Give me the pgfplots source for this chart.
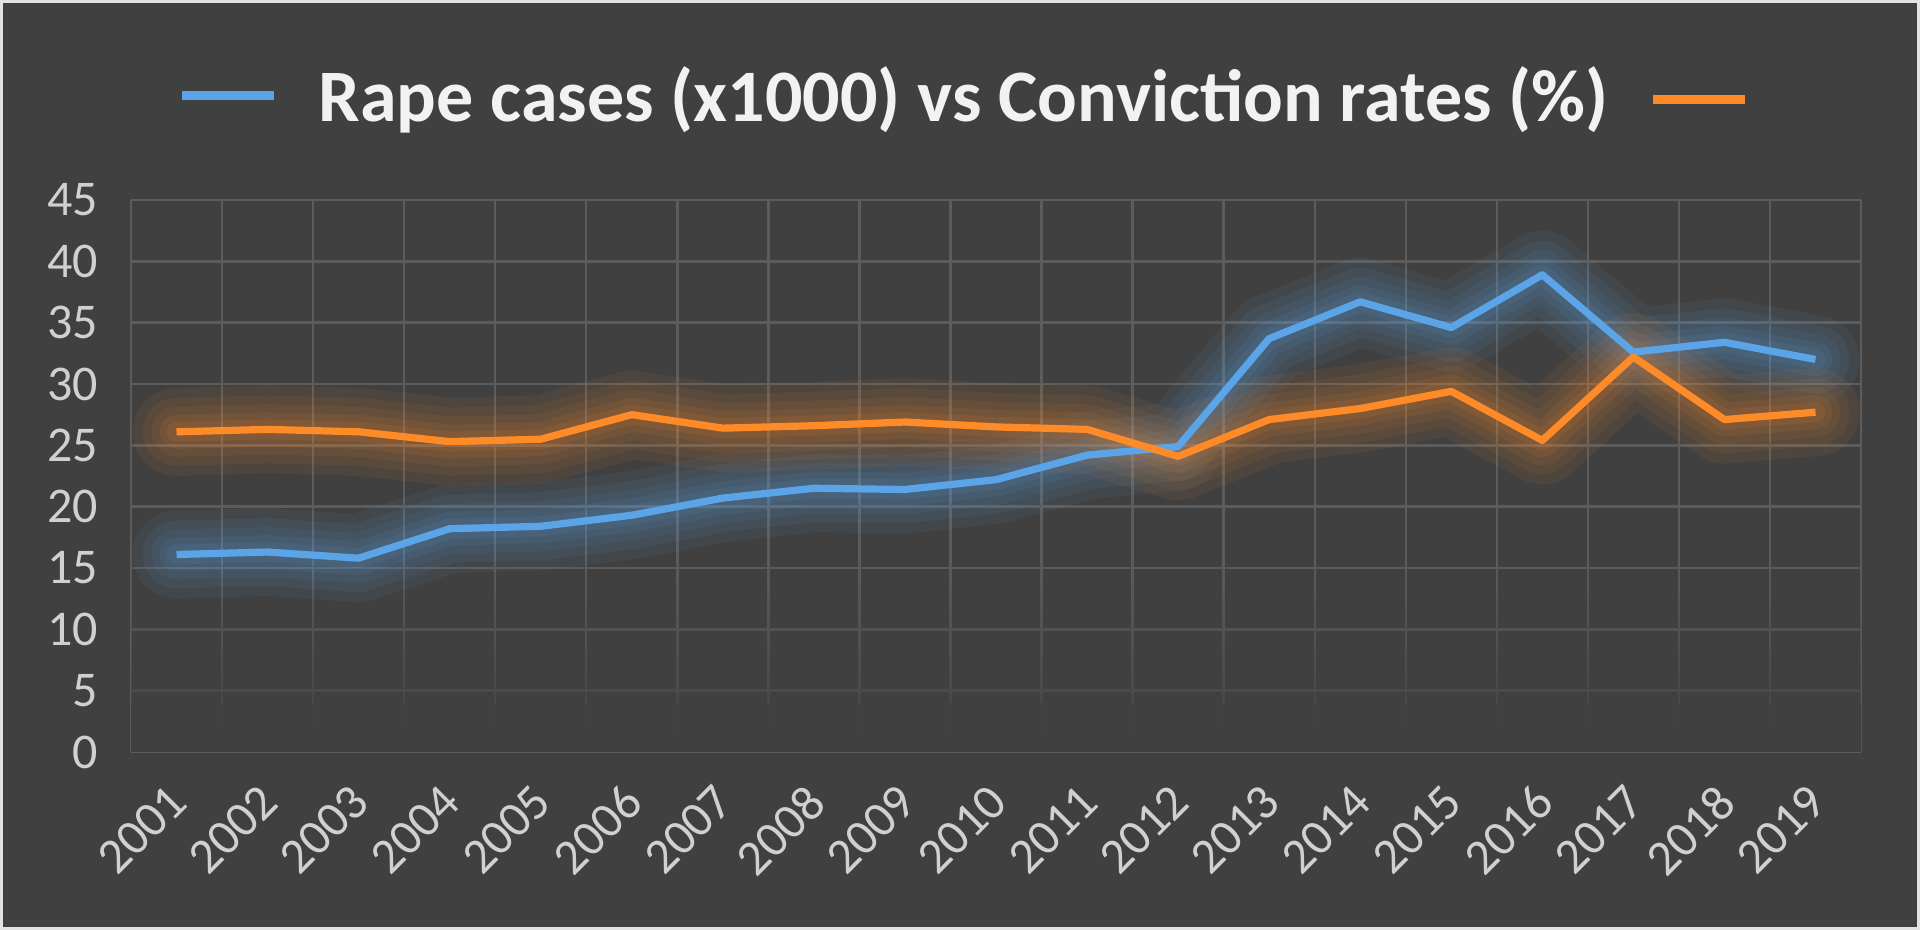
\documentclass[border=0pt]{standalone}
\usepackage{pgfplots}
\pgfplotsset{compat=1.18}
\usepackage{pgfplotstable}
\usetikzlibrary{fadings}
\usepackage{fontspec}
\setmainfont{Carlito}
\definecolor{bg}{HTML}{404040}
\definecolor{gridc}{HTML}{5C5C5C}
\definecolor{tickc}{HTML}{D0D0D0}
\definecolor{titlec}{HTML}{F2F2F2}
\definecolor{cblue}{HTML}{5BA4E8}
\definecolor{corange}{HTML}{FF8A28}
\definecolor{framec}{HTML}{E2E2E2}
\tikzfading[name=fadeup, bottom color=transparent!0, top color=transparent!100]

\pgfplotstableread{
x year cases conv
0  2001 16.1 26.1
1  2002 16.3 26.3
2  2003 15.8 26.1
3  2004 18.2 25.3
4  2005 18.4 25.5
5  2006 19.3 27.5
6  2007 20.7 26.4
7  2008 21.5 26.6
8  2009 21.4 26.9
9  2010 22.2 26.5
10 2011 24.2 26.3
11 2012 24.9 24.1
12 2013 33.7 27.1
13 2014 36.7 28.0
14 2015 34.6 29.4
15 2016 38.9 25.4
16 2017 32.6 32.2
17 2018 33.4 27.1
18 2019 32.0 27.7
}\datatable

\pgfplotsset{
  glowb/.style={forget plot, cblue, line join=round, line cap=round},
  glowo/.style={forget plot, corange, line join=round, line cap=round},
}

\begin{document}
\begin{tikzpicture}
\useasboundingbox (0,0) rectangle (960pt,465pt);
\fill[bg] (0,0) rectangle (960pt,465pt);
\draw[framec, line width=3pt] (0,0) rectangle (960pt,465pt);
\begin{axis}[
  at={(65.5pt,89pt)}, anchor=south west,
  scale only axis, width=865pt, height=276pt,
  xmin=-0.5, xmax=18.5, ymin=0, ymax=45,
  xtick={0,...,18},
  xticklabels={2001,2002,2003,2004,2005,2006,2007,2008,2009,2010,2011,2012,2013,2014,2015,2016,2017,2018,2019},
  minor xtick={-0.5,0.5,...,18.5},
  ytick={0,5,...,45},
  xminorgrids=true, ymajorgrids=true, xmajorgrids=false,
  grid style={gridc, line width=1.2pt},
  minor grid style={gridc, line width=1.2pt},
  axis line style={draw=none},
  major tick length=0pt, minor tick length=0pt,
  tick style={draw=none},
  ticklabel style={font=\fontsize{25}{25}\selectfont, color=tickc},
  /pgf/number format/assume math mode=true,
  xticklabel style={xshift=-5pt, rotate=45, anchor=north east, inner sep=2pt},
  yticklabel shift=13pt,
  xticklabel shift=12pt,
  legend style={draw=none, fill=none, at={(0.494,1.19)}, anchor=center,
    legend columns=2, font=\fontsize{37}{37}\selectfont\bfseries, text=titlec,
    /tikz/every even column/.append style={column sep=18pt},
    /tikz/every odd column/.append style={column sep=18pt}},
]
\fill[bg, path fading=fadeup] (axis cs:-0.7,-1.5) rectangle (axis cs:18.7,16);
\fill[bg, opacity=0.8] (axis cs:-0.7,-1.5) rectangle (axis cs:18.7,4);
% glows
\addplot[glowb, opacity=0.07, line width=44pt] table[x=x,y=cases] {\datatable};
\addplot[glowb, opacity=0.08, line width=34pt] table[x=x,y=cases] {\datatable};
\addplot[glowb, opacity=0.08, line width=25pt] table[x=x,y=cases] {\datatable};
\addplot[glowb, opacity=0.09, line width=17pt] table[x=x,y=cases] {\datatable};
\addplot[glowb, opacity=0.10, line width=10pt] table[x=x,y=cases] {\datatable};
\addplot[glowo, opacity=0.07, line width=44pt] table[x=x,y=conv] {\datatable};
\addplot[glowo, opacity=0.08, line width=34pt] table[x=x,y=conv] {\datatable};
\addplot[glowo, opacity=0.08, line width=25pt] table[x=x,y=conv] {\datatable};
\addplot[glowo, opacity=0.09, line width=17pt] table[x=x,y=conv] {\datatable};
\addplot[glowo, opacity=0.10, line width=10pt] table[x=x,y=conv] {\datatable};
% lines
\addplot[forget plot, cblue, line width=3.6pt, line join=round] table[x=x,y=cases] {\datatable};
\addplot[forget plot, corange, line width=3.6pt, line join=round] table[x=x,y=conv] {\datatable};
% legend
\addlegendimage{legend image code/.code={\draw[cblue, line width=4.5pt] (0pt,0pt) -- (46pt,0pt);}}
\addlegendentry{Rape cases (x1000) vs Conviction rates (\%)}
\addlegendimage{legend image code/.code={\draw[corange, line width=4.5pt] (0pt,-2pt) -- (46pt,-2pt);}}
\addlegendentry{}
\end{axis}
\end{tikzpicture}
\end{document}
